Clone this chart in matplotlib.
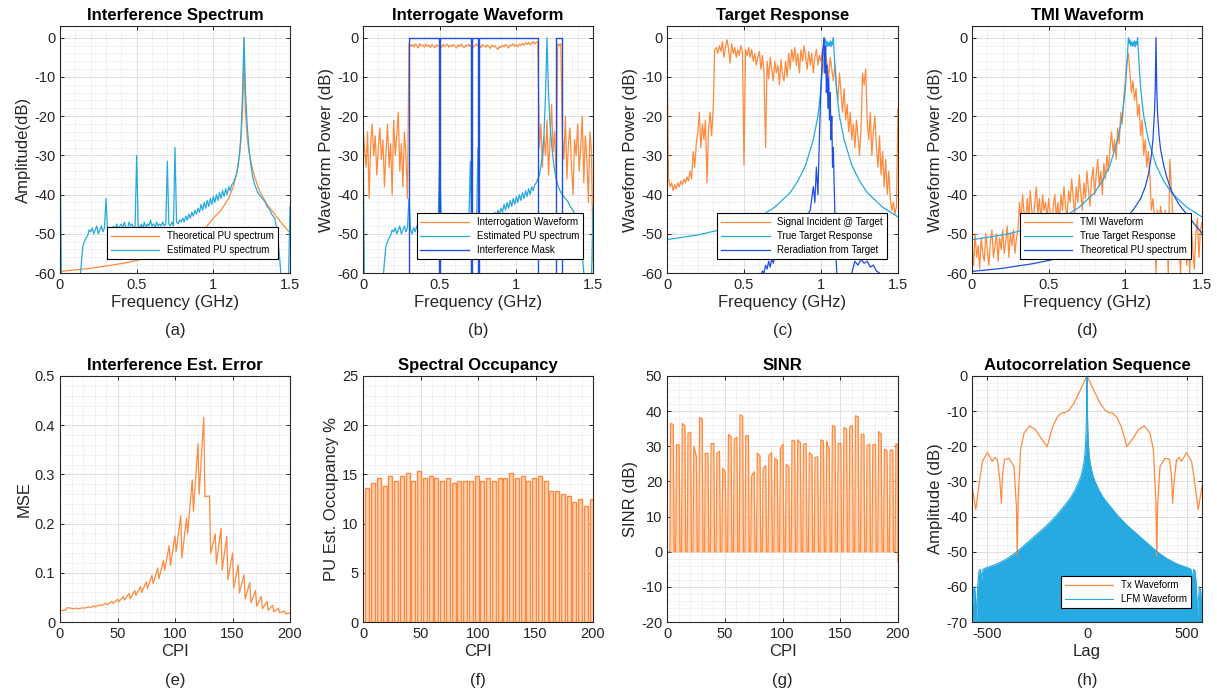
import numpy as np
import matplotlib
matplotlib.use('Agg')
import matplotlib.pyplot as plt
from matplotlib.ticker import AutoMinorLocator, FormatStrFormatter

plt.rcParams['font.family'] = ['Liberation Sans', 'DejaVu Sans']
plt.rcParams['axes.unicode_minus'] = False

ORANGE = '#FF8A3D'
PEACH = '#FFD2B3'
LBLUE = '#27A9E1'
DBLUE = '#1F4FE3'

# ---------------- data ----------------
# frequency grid of the measured spectra (GHz)
freq = np.round(np.arange(151) * 0.01, 2)

# estimated PU spectrum (a, b)
est_pu = [
    -24, -65, -65, -65, -65, -65, -65, -65, -65, -65,
    -65, -65, -65, -62, -57, -53, -52, -51, -50.5, -49,
    -49.5, -48.5, -50, -49, -48, -50, -49, -48, -49.5, -48.5,
    -41, -49, -50, -48.5, -49.5, -48, -49.5, -47.5, -49, -48,
    -47.5, -48.5, -47, -48.5, -49, -47, -48, -47.5, -48.5, -48,
    -30, -48, -48.5, -47.5, -48.5, -47, -48.5, -47.5, -48, -46.5,
    -48, -47.5, -48.5, -47, -48, -47.5, -48, -47, -48, -47.5,
    -31.5, -47.5, -48, -47, -48, -28, -47, -47.5, -46.5, -47,
    -46, -47, -45.5, -46.5, -45, -46, -44.5, -45.5, -44, -45,
    -43.5, -44.5, -42.5, -44, -42, -43.5, -41.5, -43, -41, -42.5,
    -40.5, -42, -40, -41.5, -39.5, -41, -39, -40.5, -38.5, -40,
    -38, -39, -37.5, -37, -36, -35, -33, -30, -25, -15,
    0, -14, -22, -27, -31, -34, -36, -37.5, -38.5, -39.5,
    -40, -40.5, -41, -41.5, -42, -43, -43.5, -44, -45, -45.5,
    -46, -48, -51, -55, -60, -63, -65, -65, -65, -62,
    -43]

# theoretical PU spectrum (a, d)
theo_f = [0, 0.2, 0.4, 0.5, 0.6, 0.7, 0.8, 0.9, 0.95, 1.0, 1.05, 1.1, 1.13, 1.15, 1.17,
          1.18, 1.19, 1.195, 1.2, 1.205, 1.21, 1.22, 1.23, 1.25, 1.27, 1.3, 1.35, 1.4, 1.45, 1.5]
theo_db = [-59.6, -58.8, -57.6, -56.8, -55.8, -54.4, -52.5, -50, -48.5, -46, -44, -41, -38, -35, -30,
           -26, -19, -13, 0, -13, -19, -25, -28.5, -32.5, -35.5, -39, -42.5, -45, -47.5, -49.8]

# interrogation waveform (b)
interrog = [
    -23, -28, -33, -24, -41, -27, -22, -30, -25, -35,
    -28, -23, -31, -26, -38, -29, -22, -33, -27, -40,
    -21, -30, -25, -19, -34, -27, -38, -24, -30, -41,
    -1.5, -2.2, -1.7, -2.4, -1.6, -2.0, -2.6, -1.5, -2.1, -1.8,
    -2.4, -1.6, -2.2, -1.9, -2.5, -1.7, -2.1, -2.6, -1.8, -2.2,
    -1.9, -2.5, -1.7, -2.3, -2.0, -1.6, -2.4, -1.9, -2.2, -1.7,
    -2.1, -2.6, -1.8, -2.3, -1.6, -2.2, -2.5, -1.9, -2.1, -1.7,
    -2.3, -1.8, -2.4, -2.0, -1.6, -2.2, -1.9, -2.5, -1.7, -2.1,
    -2.4, -1.8, -2.2, -2.7, -1.9, -2.3, -2.0, -2.6, -3.0, -2.2,
    -2.5, -1.9, -2.3, -1.7, -2.1, -2.6, -1.8, -2.0, -1.5, -2.2,
    -1.8, -2.3, -1.6, -2.0, -1.4, -1.9, -1.3, -1.7, -1.2, -1.8,
    -1.4, -1.0, -1.6, -1.1, -1.0, -28, -22, -33, -25, -30,
    -21, -35, -26, -17, -29, -24, -36, -1.5, -2.0, -1.5,
    -25, -31, -20, -36, -27, -23, -33, -40, -26, -30,
    -22, -34, -28, -20, -37, -25, -31, -42, -24, -29,
    -57]

# interference mask (b)
mask_f = [0, 0.3, 0.3, 0.497, 0.497, 0.503, 0.503, 0.703, 0.703, 0.708, 0.708,
          0.75, 0.75, 0.755, 0.755, 1.14, 1.14, 1.26, 1.26, 1.30, 1.30, 1.5]
mask_db = [-80, -80, 0, 0, -80, -80, 0, 0, -80, -80, 0,
           0, -80, -80, 0, 0, -80, -80, 0, 0, -80, -80]

# signal incident at target (c)
incident = [
    -2, -36, -38, -37, -39, -37.5, -38.5, -37, -38, -36.5,
    -37.5, -36, -37, -35.5, -36.5, -34, -36, -29, -33, -27,
    -24, -19, -28, -22, -26, -21, -37, -23, -19, -25,
    -18, -3, -2.5, -4, -2, -3.5, -1, -5, -2, -0.5,
    -3, -6.5, -1.5, -4, -2.5, -5, -3, -4.5, -2, -3.5,
    -32.5, -3, -4.5, -2.5, -5, -3, -6, -4, -7, -5,
    -3.5, -8, -4.5, -9, -28, -6, -10.5, -5, -8, -11,
    -6, -9, -7, -12, -5.5, -9.5, -11, -6, -10, -4,
    -8, -3, -6, -2.5, -7, -4, -9, -3, -6, -2,
    -5, -8, -3.5, -7, -4, -9, -5, -3, -7, -4.5,
    -6, -3, -9, -4, -7, -10, -5, -8, -11, -7,
    -12, -16, -9, -14, -19, -13, -21, -17, -24, -19,
    -26, -22, -28, -21, -25, -30, -23, -9, -12, -8,
    -21, -26, -19, -30, -24, -20, -28, -33, -25, -35,
    -29, -38, -31, -40, -34, -41, -44, -42, -45, -43,
    -18]

# true target response (c, d)
ttr_f = [0, 0.2, 0.4, 0.5, 0.6, 0.7, 0.8, 0.85, 0.9, 0.95,
         0.98, 1.0, 1.01, 1.02, 1.025, 1.03, 1.035, 1.04, 1.045, 1.05,
         1.055, 1.06, 1.065, 1.07, 1.075, 1.08, 1.09, 1.1, 1.12, 1.15,
         1.2, 1.25, 1.3, 1.4, 1.5]
ttr_db = [-51.5, -50.3, -48.5, -47.3, -45.7, -43.2, -39.5, -36.5, -32.5, -26,
          -20, -13, -7, 0, -1.5, -0.5, -2, -1, -2.2, -1.2,
          -2, -0.8, -2.3, -1, -1.8, 0, -7, -13, -20, -26,
          -32.5, -36.5, -39.5, -43.2, -45.7]

# reradiation from target (c)
rr_f = [0.60, 0.62, 0.63, 0.64, 0.65, 0.66, 0.67, 0.68, 0.69, 0.70,
        0.72, 0.75, 0.80, 0.85, 0.90, 0.93, 0.95, 0.96, 0.97, 0.98,
        0.99, 1.00, 1.01, 1.02, 1.025, 1.03, 1.035, 1.04, 1.045, 1.05,
        1.055, 1.06, 1.065, 1.07, 1.075, 1.08, 1.09, 1.10, 1.11, 1.15,
        1.2, 1.22, 1.24, 1.26, 1.28, 1.30, 1.32, 1.34, 1.36, 1.38, 1.40]
rr_db = [-61, -59.5, -60, -58, -59, -57, -58.5, -56.5, -57.5, -56,
         -55, -53, -50, -48, -46, -44, -38, -42, -33, -40,
         -25, -12, -4, 0, -9, -2, -14, -7, -18, -10,
         -21, -14, -26, -20, -33, -28, -45, -58, -66, -66,
         -60, -57, -58, -56.5, -57.5, -57, -58.5, -58, -59.5, -60, -62]

# TMI waveform (d)
tmi = [
    -52, -58, -50, -56, -53, -59, -51, -55, -57, -50,
    -54, -58, -52, -49, -56, -53, -50, -57, -51, -54,
    -49, -55, -52, -48, -56, -50, -53, -49, -55, -51,
    -49, -42, -47, -40, -45, -48, -41, -46, -39, -44,
    -47, -42, -38, -45, -41, -47, -40, -44, -42, -46,
    -41, -45, -48, -43, -40, -46, -42, -47, -40, -44,
    -38, -43, -46, -39, -42, -36, -41, -45, -38, -42,
    -35, -40, -44, -37, -41, -34, -39, -43, -36, -33,
    -40, -35, -31, -38, -34, -40, -32, -36, -30, -34,
    -28, -24, -29, -26, -31, -23, -27, -19, -22, -15,
    -11, -6, -4, -9, -14, -11, -16, -13, -20, -17,
    -25, -21, -30, -26, -33, -29, -35, -44, -41, -46,
    -60, -44, -47, -43, -46, -55, -44, -48, -60, -31,
    -38, -46, -50, -56, -47, -53, -60, -49, -55, -47,
    -58, -51, -60, -48, -54, -59, -50, -46, -56, -49,
    -47]

# MSE per 5-CPI block: value at CPI 5k (peak) and 5k+1 (after the drop)
mse_start = 0.023
mse_peak = [0.024, 0.028, 0.028, 0.029, 0.031, 0.033, 0.035, 0.038, 0.042, 0.046,
            0.052, 0.058, 0.064, 0.072, 0.082, 0.095, 0.110, 0.125, 0.155, 0.175,
            0.216, 0.211, 0.289, 0.362, 0.416, 0.256, 0.179, 0.190, 0.174, 0.140,
            0.116, 0.096, 0.080, 0.064, 0.052, 0.042, 0.034, 0.028, 0.022, 0.018]
mse_trough = [0.029, 0.027, 0.027, 0.028, 0.029, 0.031, 0.033, 0.035, 0.038, 0.041,
              0.045, 0.047, 0.054, 0.060, 0.068, 0.078, 0.088, 0.105, 0.115, 0.143,
              0.130, 0.180, 0.225, 0.260, 0.255, 0.139, 0.118, 0.106, 0.086, 0.069,
              0.059, 0.047, 0.039, 0.032, 0.027, 0.024, 0.021, 0.019, 0.017]

# spectral occupancy per 5-CPI block (%)
occupancy = [13.6, 14.1, 14.6, 13.8, 14.8, 14.3, 14.8, 15.1, 14.3, 15.3,
             14.6, 14.8, 14.6, 14.3, 14.6, 14.1, 14.3, 14.3, 14.3, 14.8,
             14.3, 14.6, 14.3, 14.6, 14.6, 15.1, 14.6, 14.8, 14.3, 14.6,
             14.8, 14.3, 13.3, 13.3, 13.0, 12.8, 12.2, 12.5, 11.8, 12.5]

# SINR per 5-CPI block (dB): start and end of each plateau
sinr_a = [36.5, 30.4, 36.5, 33.7, 30.0, 38.2, 28.0, 30.8, 28.0, 23.7,
          33.4, 32.0, 38.9, 33.0, 21.5, 28.0, 23.7, 27.3, 26.6, 29.4,
          24.9, 31.6, 31.8, 30.5, 28.2, 26.8, 31.8, 31.5, 35.9, 30.8,
          35.4, 35.6, 38.7, 33.4, 30.2, 30.4, 34.2, 29.2, 28.9, 30.8]
sinr_b = [36.2, 30.4, 35.8, 34.0, 27.0, 37.8, 28.0, 30.8, 28.6, 22.6,
          32.7, 32.5, 38.6, 33.0, 22.8, 27.3, 24.5, 28.2, 26.0, 30.6,
          24.2, 31.6, 31.0, 30.8, 27.5, 27.0, 31.5, 29.0, 35.6, 30.8,
          34.8, 35.9, 38.4, 33.4, 30.6, 30.6, 33.4, 28.7, 28.9, 30.4]
sinr_end = -3

# autocorrelation (h), positive lags, symmetric
tx_lag = [0, 20, 41, 66, 91, 110, 130, 150, 174, 199, 224, 257, 287, 315, 332,
          344, 349, 353, 365, 390, 412, 423, 428, 436, 448, 462, 473, 498, 523, 539, 556, 575]
tx_db = [0, -2.4, -4.9, -7.8, -9.8, -10.4, -10.6, -11.8, -14.8, -20.1, -18.2, -15.3, -14.2, -16.3, -21,
         -35.2, -51.3, -37, -25.8, -23.4, -23.7, -28.6, -36.2, -29.5, -23.8, -23.2, -24.3, -21.8,
         -24.3, -30.5, -38, -31.4]
lfm_lag = [0, 2, 4, 6, 10, 15, 20, 30, 40, 60,
           80, 100, 150, 200, 250, 300, 350, 400, 450, 500,
           520, 527, 533, 540, 547, 552, 556, 562, 568, 572, 576]
lfm_top = [0, -10, -15, -18, -22, -24.5, -26, -28.5, -30, -32.5,
           -34.5, -36, -39.5, -42.5, -45, -47.5, -50, -52, -53.5, -54.5,
           -55, -58, -55, -55.5, -60, -70, -64, -60, -61, -65, -70]
lfm_floor = -70

# ---------------- figure ----------------
W, H = 1217, 692
fig = plt.figure(figsize=(W / 100, H / 100), dpi=100)


def add_ax(l, t, r, b):
    return fig.add_axes([l / W, 1 - b / H, (r - l) / W, (b - t) / H])


def style(ax, title, xlabel, ylabel, tag, tag_y, xlim, ylim, xticks, yticks, xminor=5, yminor=5):
    ax.set_xlim(xlim)
    ax.set_ylim(ylim)
    ax.set_xticks(xticks)
    ax.set_yticks(yticks)
    ax.xaxis.set_minor_locator(AutoMinorLocator(xminor))
    ax.yaxis.set_minor_locator(AutoMinorLocator(yminor))
    ax.xaxis.set_major_formatter(FormatStrFormatter('%g'))
    ax.yaxis.set_major_formatter(FormatStrFormatter('%g'))
    ax.set_axisbelow(True)
    ax.grid(True, which='major', color='#DCDCDC', lw=0.6)
    ax.grid(True, which='minor', color='#D2D2D2', lw=0.5, ls=':')
    ax.tick_params(which='major', direction='in', top=True, right=True, length=3,
                   width=0.7, labelsize=10.5, color='#262626', labelcolor='#262626')
    ax.tick_params(which='minor', length=0)
    for sp in ax.spines.values():
        sp.set_color('#262626')
        sp.set_linewidth(0.8)
    ax.set_title(title, fontsize=12, fontweight='bold', pad=4)
    ax.set_xlabel(xlabel, fontsize=12, labelpad=2, color='#262626')
    ax.set_ylabel(ylabel, fontsize=12, labelpad=2, color='#262626')
    pos = ax.get_position()
    fig.text(pos.x0 + pos.width / 2, 1 - tag_y / H, tag, ha='center', va='center',
             fontsize=12, color='#262626')


def legend(ax, x1):
    lg = ax.legend(loc='lower right', bbox_to_anchor=(x1, 0.057), borderaxespad=0,
                   fontsize=7, handlelength=5, handletextpad=0.8, borderpad=0.4,
                   labelspacing=0.4, fancybox=False, framealpha=1, edgecolor='black')
    lg.get_frame().set_linewidth(0.8)


cols = [(60, 290), (363, 593), (667, 898), (972, 1202)]
top_row = (26, 273)
bot_row = (376, 622)
ftick = [0, 0.5, 1, 1.5]
dbtick = list(range(-60, 1, 10))

# (a)
ax = add_ax(cols[0][0], top_row[0], cols[0][1], top_row[1])
ax.plot(theo_f, theo_db, color=ORANGE, lw=0.9, label='Theoretical PU spectrum')
ax.plot(freq, est_pu, color=LBLUE, lw=0.9, label='Estimated PU spectrum')
style(ax, 'Interference Spectrum', 'Frequency (GHz)', 'Amplitude(dB)', '(a)', 331,
      (0, 1.5), (-60, 3), ftick, dbtick)
legend(ax, 0.948)

# (b)
ax = add_ax(cols[1][0], top_row[0], cols[1][1], top_row[1])
ax.plot(freq, interrog, color=ORANGE, lw=0.9, label='Interrogation Waveform')
ax.plot(freq, est_pu, color=LBLUE, lw=0.9, label='Estimated PU spectrum')
ax.plot(mask_f, mask_db, color=DBLUE, lw=1.0, label='Interference Mask')
style(ax, 'Interrogate Waveform', 'Frequency (GHz)', 'Waveform Power (dB)', '(b)', 331,
      (0, 1.5), (-60, 3), ftick, dbtick)
legend(ax, 0.957)

# (c)
ax = add_ax(cols[2][0], top_row[0], cols[2][1], top_row[1])
ax.plot(freq, incident, color=ORANGE, lw=0.9, label='Signal Incident @ Target')
ax.plot(ttr_f, ttr_db, color=LBLUE, lw=0.9, label='True Target Response')
ax.plot(rr_f, rr_db, color=DBLUE, lw=0.9, label='Reradiation from Target')
style(ax, 'Target Response', 'Frequency (GHz)', 'Waveform Power (dB)', '(c)', 331,
      (0, 1.5), (-60, 3), ftick, dbtick)
legend(ax, 0.952)

# (d)
ax = add_ax(cols[3][0], top_row[0], cols[3][1], top_row[1])
ax.plot(freq, tmi, color=ORANGE, lw=0.9, label='TMI Waveform')
ax.plot(ttr_f, ttr_db, color=LBLUE, lw=0.9, label='True Target Response')
ax.plot(theo_f, theo_db, color=DBLUE, lw=0.9, label='Theoretical PU spectrum')
style(ax, 'TMI Waveform', 'Frequency (GHz)', 'Waveform Power (dB)', '(d)', 331,
      (0, 1.5), (-60, 3), ftick, dbtick)
legend(ax, 0.952)

cpi_tick = [0, 50, 100, 150, 200]

# (e) MSE sawtooth
mse_x, mse_y = [0], [mse_start]
for k, p in enumerate(mse_peak):
    mse_x.append(5 * (k + 1))
    mse_y.append(p)
    if k < len(mse_trough):
        mse_x.append(5 * (k + 1) + 1)
        mse_y.append(mse_trough[k])
ax = add_ax(cols[0][0], bot_row[0], cols[0][1], bot_row[1])
ax.plot(mse_x, mse_y, color=ORANGE, lw=0.9)
style(ax, 'Interference Est. Error', 'CPI', 'MSE', '(e)', 680,
      (0, 200), (0, 0.5), cpi_tick, [0, 0.1, 0.2, 0.3, 0.4, 0.5])

# (f) occupancy
occ_x = 5 * np.arange(len(occupancy)) + 3.75
ax = add_ax(cols[1][0], bot_row[0], cols[1][1], bot_row[1])
ax.bar(occ_x, occupancy, width=3.5, color=PEACH, edgecolor=ORANGE, lw=1.0)
style(ax, 'Spectral Occupancy', 'CPI', 'PU Est. Occupancy %', '(f)', 680,
      (0, 200), (0, 25), cpi_tick, [0, 5, 10, 15, 20, 25])

# (g) SINR
sx, sy = [0], [0]
for k, (a, b) in enumerate(zip(sinr_a, sinr_b)):
    s = 5 * k
    sx += [s + 2.5, s + 3.2, s + 5.5, s + 6.2]
    sy += [0, a, b, 0]
sx, sy = np.array(sx), np.array(sy, dtype=float)
keep = sx < 199.9
sx = np.append(sx[keep], [200, 200])
sy = np.append(sy[keep], [sinr_b[-1], sinr_end])
ax = add_ax(cols[2][0], bot_row[0], cols[2][1], bot_row[1])
ax.fill_between(sx, 0, np.clip(sy, 0, None), color=PEACH, lw=0)
ax.plot(sx, sy, color=ORANGE, lw=0.9)
style(ax, 'SINR', 'CPI', 'SINR (dB)', '(g)', 680,
      (0, 200), (-20, 50), cpi_tick, list(range(-20, 51, 10)))

# (h) autocorrelation
tx_l = np.concatenate([-np.array(tx_lag[:0:-1]), tx_lag])
tx_v = np.concatenate([tx_db[:0:-1], tx_db])
lf_l = np.concatenate([-np.array(lfm_lag[:0:-1]), lfm_lag])
lf_t = np.concatenate([lfm_top[:0:-1], lfm_top])
ax = add_ax(cols[3][0], bot_row[0], cols[3][1], bot_row[1])
ax.plot(tx_l, tx_v, color=ORANGE, lw=0.9, label='Tx Waveform')
ax.fill_between(lf_l, lfm_floor, lf_t, color=LBLUE, lw=0)
ax.plot(lf_l, lf_t, color=LBLUE, lw=0.8, label='LFM Waveform')
style(ax, 'Autocorrelation Sequence', 'Lag', 'Amplitude (dB)', '(h)', 680,
      (-575, 575), (-70, 0), [-500, 0, 500], list(range(-70, 1, 10)), xminor=10)
legend(ax, 0.952)

fig.savefig('out.png', dpi=100)
